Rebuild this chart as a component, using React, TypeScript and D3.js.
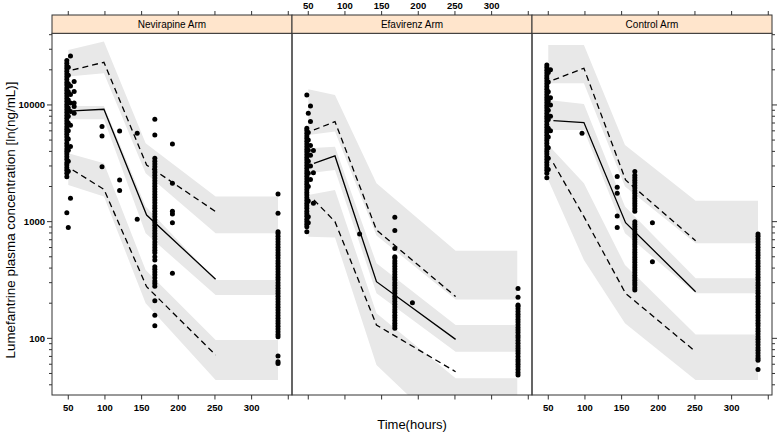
import React from "react";
import * as d3 from "d3";

const W = 778;
const H = 435;

const arms = ["Nevirapine Arm", "Efavirenz Arm", "Control Arm"];
const xTicks = [50, 100, 150, 200, 250, 300, 350];
const xTickLabels = ["50", "100", "150", "200", "250", "300", ""];
const yMajor = [100, 1000, 10000];
const yMajorLabels = ["100", "1000", "10000"];
const yMinor = [40, 50, 60, 70, 80, 90, 200, 300, 400, 500, 600, 700, 800, 900, 2000, 3000, 4000, 5000, 6000, 7000, 8000, 9000, 20000, 30000, 40000];

// ---- Nevirapine arm ----
const nevBandTimes = [50, 98.6, 155.5, 250.9, 336];
const nevUpperHi = [29600, 34900, 4690, 1640, 1640];
const nevUpperLo = [17500, 18700, 2600, 794, 794];
const nevMedHi = [9800, 9800, 1345, 316, 316];
const nevMedLo = [7540, 7540, 794, 235, 235];
const nevLowHi = [3850, 3160, 385, 96.8, 96.8];
const nevLowLo = [2060, 1640, 200, 44, 44];
const nevLineTimes = [56, 98.6, 156.8, 250.9];
const nevP95 = [19950, 23200, 3060, 1219];
const nevP50 = [8890, 9180, 1140, 321];
const nevP05 = [2770, 1892, 277, 72];
const nevT48 = [2430, 2600, 2750, 2900, 3050, 3200, 3400, 3600, 3800, 4000, 4200, 4450, 4700, 5000, 5300, 5600, 5900, 6200, 6500, 6900, 7300, 7700, 8100, 8600, 9100, 9600, 10100, 10700, 11300, 11900, 12600, 13300, 14000, 14800, 15600, 16500, 17400, 18400, 19400, 20500, 21600, 22800, 24000, 1194];
const nevT50 = [2700, 3300, 4100, 5100, 6000, 7000, 8000, 9400, 11000, 13000, 15200, 18000, 21000, 889];
const nevT53 = [4400, 6700, 8800, 10400, 12300, 14500, 26300, 1585];
const nevT58 = [15850, 13010, 10400, 9680, 8480];
const nevT96 = [6520, 5420, 2960];
const nevT120 = [5990, 2276, 1845];
const nevT144 = [5720, 1047];
const nevT168 = [128, 158, 210, 280, 295, 310, 330, 350, 370, 390, 410, 470, 500, 540, 570, 600, 635, 670, 710, 750, 790, 835, 880, 930, 985, 1040, 1100, 1160, 1230, 1300, 1370, 1450, 1530, 1620, 1710, 1800, 1900, 2010, 2120, 2240, 2370, 2500, 2640, 2790, 2950, 3120, 3300, 3490, 5530, 7540];
const nevT192 = [4630, 2130, 1230, 1160, 980, 361];
const nevT336 = [61, 63, 70.6, 103, 108, 114, 120, 127, 134, 141, 149, 157, 166, 175, 185, 195, 206, 217, 229, 242, 255, 269, 284, 300, 317, 334, 352, 372, 392, 414, 437, 461, 487, 514, 542, 572, 604, 637, 672, 710, 750, 790, 820, 1178, 1727];

// ---- Efavirenz arm ----
const efaBandTimes = [50, 86.4, 143, 250.9, 335];
const efaUpperHi = [13620, 12180, 2133, 564, 564];
const efaUpperLo = [5530, 5910, 760, 215, 215];
const efaMedHi = [4250, 4390, 439, 130, 130];
const efaMedLo = [2600, 2770, 243, 76.9, 76.9];
const efaLowHi = [1694, 1868, 164, 45.4, 45.4];
const efaLowLo = [744, 731, 59, 13.4, 13.4];
const efaLineTimes = [57.7, 86.4, 143, 250.9];
const efaP95 = [6105, 7200, 848, 228];
const efaP50 = [3162, 3655, 306, 98];
const efaP05 = [1535, 1000, 130, 51.8];
const efaT48 = [820, 906, 950, 1000, 1050, 1110, 1170, 1230, 1300, 1370, 1440, 1520, 1600, 1690, 1780, 1880, 1980, 2090, 2200, 2320, 2450, 2580, 2720, 2870, 3030, 3190, 3370, 3550, 3740, 3950, 4160, 4390, 4630, 4880, 5150, 5430, 5720, 6030, 6310, 12180];
const efaT50 = [980, 1100, 1500, 2000, 2600, 3300, 4100, 5000, 5800, 8480];
const efaT53 = [2300, 3000, 3700, 4500, 7200, 9800];
const efaT57 = [1436, 2630, 4065];
const efaT120 = [784];
const efaT168 = [122, 128, 135, 142, 150, 158, 167, 176, 186, 196, 207, 218, 230, 243, 256, 270, 285, 300, 317, 334, 352, 372, 392, 414, 437, 461, 487, 501, 590, 838, 1089];
const efaT192 = [202];
const efaT336 = [48.5, 51, 54, 57, 60, 63, 66, 70, 74, 78, 82, 86, 91, 96, 101, 106, 112, 118, 124, 131, 138, 145, 153, 161, 170, 179, 188, 193, 225, 268];

// ---- Control arm ----
const ctrlBandTimes = [50, 98.6, 154.6, 250.9, 336];
const ctrlUpperHi = [32700, 32700, 4540, 1513, 1513];
const ctrlUpperLo = [15340, 15340, 2000, 652, 652];
const ctrlMedHi = [11040, 10200, 1345, 327, 327];
const ctrlMedLo = [6105, 6105, 794, 243, 243];
const ctrlLowHi = [4540, 2133, 425, 108, 108];
const ctrlLowLo = [2276, 469, 135, 44, 44];
const ctrlLineTimes = [57, 98.6, 155.4, 250.9];
const ctrlP95 = [16370, 20620, 2276, 687];
const ctrlP50 = [7345, 7060, 980, 251];
const ctrlP05 = [3162, 1104, 243, 76.9];
const ctrlT48 = [2383, 2600, 2750, 2900, 3060, 3230, 3400, 3600, 3800, 4000, 4200, 4450, 4700, 4950, 5200, 5500, 5800, 6100, 6450, 6800, 7200, 7600, 8000, 8450, 8900, 9400, 9900, 10450, 11000, 11600, 12250, 12900, 13600, 14400, 15200, 16000, 16900, 17800, 18800, 19800, 20900, 22000];
const ctrlT50 = [2800, 3500, 4300, 5300, 6300, 7500, 9000, 10800, 13000, 15700, 19000];
const ctrlT53 = [6000, 8000, 10000, 11500, 20000];
const ctrlT96 = [5720];
const ctrlT144 = [2432, 1967, 1750, 1120, 889];
const ctrlT168 = [259, 272, 286, 300, 315, 331, 348, 366, 385, 405, 426, 448, 471, 495, 520, 547, 575, 605, 636, 669, 703, 739, 777, 817, 859, 903, 950, 1000, 1230, 1290, 1360, 1430, 1500, 1580, 1660, 1750, 1840, 1940, 2040, 2150, 2260, 2380, 2500, 2683];
const ctrlT192 = [980, 454];
const ctrlT336 = [54.2, 65, 67.5, 71, 75, 79, 83, 88, 93, 98, 103, 109, 115, 121, 128, 135, 142, 150, 158, 167, 176, 186, 196, 207, 218, 230, 243, 256, 270, 285, 300, 317, 334, 352, 372, 392, 414, 437, 461, 487, 514, 542, 572, 604, 637, 672, 710, 750, 784];

type Panel = {
  name: string;
  bandTimes: number[];
  bands: [number[], number[]][];
  lineTimes: number[];
  lines: { vals: number[]; dash: boolean }[];
  obs: { t: number; vals: number[] }[];
};

const panels: Panel[] = [
  {
    name: arms[0],
    bandTimes: nevBandTimes,
    bands: [[nevUpperLo, nevUpperHi], [nevMedLo, nevMedHi], [nevLowLo, nevLowHi]],
    lineTimes: nevLineTimes,
    lines: [{ vals: nevP95, dash: true }, { vals: nevP50, dash: false }, { vals: nevP05, dash: true }],
    obs: [
      { t: 48, vals: nevT48 }, { t: 50, vals: nevT50 }, { t: 53, vals: nevT53 }, { t: 58, vals: nevT58 },
      { t: 96, vals: nevT96 }, { t: 120, vals: nevT120 }, { t: 144, vals: nevT144 }, { t: 168, vals: nevT168 },
      { t: 192, vals: nevT192 }, { t: 336, vals: nevT336 },
    ],
  },
  {
    name: arms[1],
    bandTimes: efaBandTimes,
    bands: [[efaUpperLo, efaUpperHi], [efaMedLo, efaMedHi], [efaLowLo, efaLowHi]],
    lineTimes: efaLineTimes,
    lines: [{ vals: efaP95, dash: true }, { vals: efaP50, dash: false }, { vals: efaP05, dash: true }],
    obs: [
      { t: 48, vals: efaT48 }, { t: 50, vals: efaT50 }, { t: 53, vals: efaT53 }, { t: 57, vals: efaT57 },
      { t: 120, vals: efaT120 }, { t: 168, vals: efaT168 }, { t: 192, vals: efaT192 }, { t: 336, vals: efaT336 },
    ],
  },
  {
    name: arms[2],
    bandTimes: ctrlBandTimes,
    bands: [[ctrlUpperLo, ctrlUpperHi], [ctrlMedLo, ctrlMedHi], [ctrlLowLo, ctrlLowHi]],
    lineTimes: ctrlLineTimes,
    lines: [{ vals: ctrlP95, dash: true }, { vals: ctrlP50, dash: false }, { vals: ctrlP05, dash: true }],
    obs: [
      { t: 48, vals: ctrlT48 }, { t: 50, vals: ctrlT50 }, { t: 53, vals: ctrlT53 }, { t: 96, vals: ctrlT96 },
      { t: 144, vals: ctrlT144 }, { t: 168, vals: ctrlT168 }, { t: 192, vals: ctrlT192 }, { t: 336, vals: ctrlT336 },
    ],
  },
];

const panelLefts = [52, 292, 532];
const panelW = 240;
const panelTop = 33.3;
const panelBottom = 395;
const stripTop = 15;
const FONT = "'Liberation Sans', Arial, Helvetica, sans-serif";
const AXIS = "#333";

const y = d3.scaleLog().domain([32.7, 41100]).range([panelBottom, panelTop]);

export default function App() {
  return (
    <svg
      width={W}
      height={H}
      style={{ position: "absolute", left: 0, top: 0, background: "#fff" }}
      fontFamily={FONT}
    >
      <defs>
        {panels.map((p, i) => (
          <clipPath id={`clip${i}`} key={i}>
            <rect x={panelLefts[i]} y={panelTop} width={panelW} height={panelBottom - panelTop} />
          </clipPath>
        ))}
      </defs>
      {panels.map((p, i) => {
        const x0 = panelLefts[i];
        const x = d3.scaleLinear().domain([27.8, 27.8 + panelW / 0.73333]).range([x0, x0 + panelW]);
        const area = d3.area<number>().x((_, k) => x(p.bandTimes[k]));
        const line = d3.line<number>().x((_, k) => x(p.lineTimes[k])).y((v) => y(v));
        return (
          <g key={i}>
            <g clipPath={`url(#clip${i})`}>
              {p.bands.map(([lo, hi], b) => (
                <path
                  key={b}
                  d={area.y0((_, k) => y(lo[k])).y1((_, k) => y(hi[k]))(lo) || ""}
                  fill="#e8e8e8"
                  stroke="none"
                />
              ))}
              {p.lines.map((l, li) => (
                <path
                  key={li}
                  d={line(l.vals) || ""}
                  fill="none"
                  stroke="#000"
                  strokeWidth={1.3}
                  strokeDasharray={l.dash ? "6,4" : undefined}
                />
              ))}
              {p.obs.map((o, oi) =>
                o.vals.map((v, vi) => (
                  <circle key={`${oi}-${vi}`} cx={x(o.t)} cy={y(v)} r={2.5} fill="#000" />
                ))
              )}
            </g>
            <rect x={x0} y={panelTop} width={panelW} height={panelBottom - panelTop} fill="none" stroke={AXIS} strokeWidth={1} />
            <rect x={x0} y={stripTop} width={panelW} height={panelTop - stripTop} fill="#ffe5cc" stroke={AXIS} strokeWidth={1} />
            <text x={x0 + panelW / 2} y={(stripTop + panelTop) / 2 + 3.6} textAnchor="middle" fontSize={10} fill="#000">
              {p.name}
            </text>
            {xTicks.map((t, k) => (
              <g key={k}>
                <line x1={x(t)} x2={x(t)} y1={panelBottom} y2={panelBottom + 4.5} stroke={AXIS} />
                <line x1={x(t)} x2={x(t)} y1={stripTop} y2={stripTop - 4} stroke={AXIS} />
                {i !== 1 && xTickLabels[k] && (
                  <text x={x(t)} y={411} textAnchor="middle" fontSize={9.5} fontWeight="bold" fill="#000">
                    {xTickLabels[k]}
                  </text>
                )}
                {i === 1 && xTickLabels[k] && (
                  <text x={x(t)} y={8.5} textAnchor="middle" fontSize={9.5} fontWeight="bold" fill="#000">
                    {xTickLabels[k]}
                  </text>
                )}
              </g>
            ))}
          </g>
        );
      })}
      {yMajor.map((v, k) => (
        <g key={`yl${k}`}>
          <line x1={panelLefts[0] - 5} x2={panelLefts[0]} y1={y(v)} y2={y(v)} stroke={AXIS} />
          <line x1={panelLefts[2] + panelW} x2={panelLefts[2] + panelW + 5} y1={y(v)} y2={y(v)} stroke={AXIS} />
          <text x={panelLefts[0] - 7} y={y(v) + 3.3} textAnchor="end" fontSize={9.5} fontWeight="bold" fill="#000">
            {yMajorLabels[k]}
          </text>
        </g>
      ))}
      {yMinor.map((v, k) => (
        <g key={`ym${k}`}>
          <line x1={panelLefts[0] - 3} x2={panelLefts[0]} y1={y(v)} y2={y(v)} stroke={AXIS} />
          <line x1={panelLefts[2] + panelW} x2={panelLefts[2] + panelW + 3} y1={y(v)} y2={y(v)} stroke={AXIS} />
        </g>
      ))}
      <text
        transform="translate(15, 220) rotate(-90)"
        textAnchor="middle"
        fontSize={13.4}
        fill="#000"
      >
        Lumefantrine plasma concentration [ln(ng/mL)]
      </text>
      <text x={412} y={429} textAnchor="middle" fontSize={13} fill="#000">
        Time(hours)
      </text>
    </svg>
  );
}
